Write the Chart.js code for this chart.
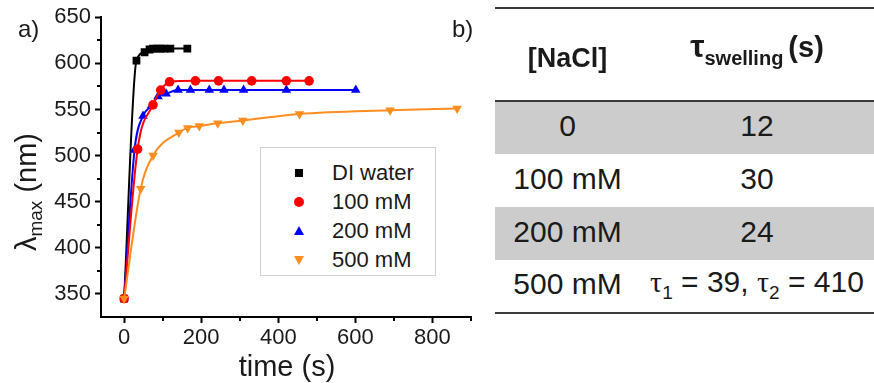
<!DOCTYPE html>
<html>
<head>
<meta charset="utf-8">
<script src="https://cdn.jsdelivr.net/npm/chart.js@4/dist/chart.umd.min.js"></script>
<style>
  html, body { margin: 0; padding: 0; background: #fff; }
  body { width: 874px; height: 383px; position: relative; overflow: hidden;
         font-family: 'Liberation Sans', Arial, sans-serif; color: #1a1a1a; }
  #plot { position: absolute; left: 0; top: 0; width: 480px; height: 383px; }
  .lbl { position: absolute; font-size: 24px; line-height: 1; }
  #ytitle { position: absolute; left: 28px; top: 192px; font-size: 29px; white-space: nowrap;
            transform: translate(-50%, -50%) rotate(-90deg); line-height: 1; }
  #ytitle sub { font-size: 19px; vertical-align: -6px; }
  #xtitle { position: absolute; left: 287px; top: 366px; font-size: 29px; transform: translate(-50%, -50%);
            line-height: 1; white-space: nowrap; }
  #legend { position: absolute; left: 260px; top: 147px; width: 176px; height: 129px;
            border: 1px solid #cfcfcf; box-sizing: border-box; background: #fff; }
  .li { position: absolute; left: 0; height: 26px; line-height: 26px; font-size: 22px; }
  .li span.t { position: absolute; left: 71px; white-space: nowrap; }
  .mk { position: absolute; }
  table { position: absolute; left: 495px; top: 7px; width: 379px; border-collapse: collapse; }
  td { text-align: center; font-size: 30px; padding: 0; line-height: 1; box-sizing: border-box; }
  tr.head td { height: 93px; font-weight: bold; border-top: 2px solid #3a3a3a; border-bottom: 2px solid #3a3a3a; vertical-align: middle; }
  tr.r td { height: 53px; }
  tr.g td { background: #cccccc; }
  tr.last td { border-bottom: 2px solid #3a3a3a; }
  td.c1 { width: 145px; }
  .tau { font-family: 'Liberation Serif', 'DejaVu Serif', serif; }
  .up { position: relative; top: -2px; }
</style>
</head>
<body>
<div id="plot"><canvas id="chart" width="480" height="383"></canvas></div>
<div class="lbl" style="left:18px; top:17px;">a)</div>
<div class="lbl" style="left:452px; top:17px;">b)</div>
<div id="ytitle">&lambda;<sub>max</sub> (nm)</div>
<div id="xtitle">time (s)</div>
<div id="legend"></div>

<table>
  <tr class="head">
    <td class="c1" style="font-size:27px;"><span style="position:relative; top:4px;">[NaCl]</span></td>
    <td><span style="position:relative; top:-9px;"><span style="font-size:32px;">&tau;</span><span style="font-size:20px; position:relative; top:8px;">swelling</span><span style="font-size:29px; margin-left:5px;">(s)</span></span></td>
  </tr>
  <tr class="r g"><td class="c1"><span class="up">0</span></td><td><span class="up">12</span></td></tr>
  <tr class="r"><td class="c1"><span class="up">100 mM</span></td><td><span class="up">30</span></td></tr>
  <tr class="r g"><td class="c1"><span class="up">200 mM</span></td><td><span class="up">24</span></td></tr>
  <tr class="r last"><td class="c1"><span class="up">500 mM</span></td><td><span class="up"><span class="tau">&tau;</span><sub style="font-size:19px;">1</sub> = 39, <span class="tau">&tau;</span><sub style="font-size:19px;">2</sub> = 410</span></td></tr>
</table>

<script>
// ── Data ──
const seriesNames = ['DI water', '100 mM', '200 mM', '500 mM'];

const diTime   = [0, 32, 53, 66, 75, 85, 95, 105, 120, 164];
const diLambda = [345, 603, 612, 615, 616, 616, 616, 616, 616, 616];

const m100Time   = [0, 35, 75, 95, 118, 185, 245, 331, 421, 480];
const m100Lambda = [345, 507, 555, 571, 580, 581, 581, 581, 581, 581];

const m200Time   = [0, 27, 49, 71, 88, 109, 140, 172, 221, 259, 310, 421, 601];
const m200Lambda = [345, 506, 543, 554, 564, 567, 571, 571, 571, 571, 571, 571, 571];

const m500Time   = [0, 43, 75, 142, 165, 195, 243, 308, 455, 690, 864];
const m500Lambda = [345, 464, 500, 525, 530, 532, 535, 538, 545, 549, 551];

const xMajor = [0, 200, 400, 600, 800];
const xMinor = [100, 300, 500, 700, 900];
const yMajor = [350, 400, 450, 500, 550, 600, 650];
const yMinor = [375, 425, 475, 525, 575, 625];

// ── Styles ──
const COLORS = ['#000000', '#ff0000', '#0000ff', '#ff8c1e'];
const FONT = "'Liberation Sans', Arial, sans-serif";

function pts(xs, ys) { return xs.map((x, i) => ({ x, y: ys[i] })); }

function makeSet(i, xs, ys, style, radius, rotation, order) {
  return {
    label: seriesNames[i],
    data: pts(xs, ys),
    borderColor: COLORS[i],
    backgroundColor: COLORS[i],
    pointBackgroundColor: COLORS[i],
    pointBorderColor: COLORS[i],
    pointBorderWidth: 0,
    pointStyle: style,
    pointRadius: radius,
    pointRotation: rotation,
    borderWidth: 2,
    showLine: true,
    cubicInterpolationMode: 'monotone',
    order
  };
}

// minor ticks, shorter than the major ones
const minorTicks = {
  id: 'minorTicks',
  afterDraw(chart) {
    const { ctx, chartArea, scales } = chart;
    ctx.save();
    ctx.strokeStyle = '#000';
    ctx.lineWidth = 2;
    ctx.beginPath();
    xMinor.forEach(v => {
      const px = Math.round(scales.x.getPixelForValue(v));
      ctx.moveTo(px, chartArea.bottom);
      ctx.lineTo(px, chartArea.bottom + 4);
    });
    yMinor.forEach(v => {
      const py = Math.round(scales.y.getPixelForValue(v));
      ctx.moveTo(chartArea.left, py);
      ctx.lineTo(chartArea.left - 4, py);
    });
    ctx.stroke();
    ctx.restore();
  }
};

const axisCommon = {
  border: { display: true, color: '#000', width: 2 },
  grid: { drawOnChartArea: false, drawTicks: true, tickLength: 6, tickWidth: 2, tickColor: '#000' }
};

new Chart(document.getElementById('chart'), {
  type: 'scatter',
  data: {
    datasets: [
      makeSet(0, diTime, diLambda, 'rect', 5.5, 0, 3),
      makeSet(1, m100Time, m100Lambda, 'circle', 4.8, 0, 1),
      makeSet(2, m200Time, m200Lambda, 'triangle', 5.5, 0, 2),
      makeSet(3, m500Time, m500Lambda, 'triangle', 5.5, 180, 0)
    ]
  },
  options: {
    responsive: false,
    animation: false,
    layout: { padding: { left: 0, right: 9, top: 17, bottom: 0 } },
    plugins: { legend: { display: false }, tooltip: { enabled: false } },
    scales: {
      x: {
        ...axisCommon,
        type: 'linear',
        min: -60, max: 900,
        afterBuildTicks(s) { s.ticks = xMajor.map(v => ({ value: v })); },
        afterFit(s) { s.height = 66; },
        ticks: { color: '#1a1a1a', padding: 2, maxRotation: 0, font: { family: FONT, size: 22 } }
      },
      y: {
        ...axisCommon,
        type: 'linear',
        min: 325, max: 650,
        afterBuildTicks(s) { s.ticks = yMajor.map(v => ({ value: v })); },
        afterFit(s) { s.width = 101; },
        ticks: { color: '#1a1a1a', padding: 4, font: { family: FONT, size: 22 } }
      }
    }
  },
  plugins: [minorTicks]
});

// ── Legend (HTML) ──
const legend = document.getElementById('legend');
const legendRowsY = [12, 41, 70, 99];
const markerHtml = [
  '<div class="mk" style="left:34px;top:9px;width:8px;height:8px;background:#000;"></div>',
  '<div class="mk" style="left:33px;top:8px;width:10px;height:10px;border-radius:50%;background:#ff0000;"></div>',
  '<div class="mk" style="left:33px;top:8px;width:0;height:0;border-left:5px solid transparent;border-right:5px solid transparent;border-bottom:9px solid #0000ff;"></div>',
  '<div class="mk" style="left:33px;top:9px;width:0;height:0;border-left:5px solid transparent;border-right:5px solid transparent;border-top:9px solid #ff8c1e;"></div>'
];
seriesNames.forEach((name, i) => {
  const row = document.createElement('div');
  row.className = 'li';
  row.style.top = legendRowsY[i] + 'px';
  row.style.width = '100%';
  row.innerHTML = markerHtml[i] + '<span class="t">' + name + '</span>';
  legend.appendChild(row);
});
</script>
</body>
</html>
